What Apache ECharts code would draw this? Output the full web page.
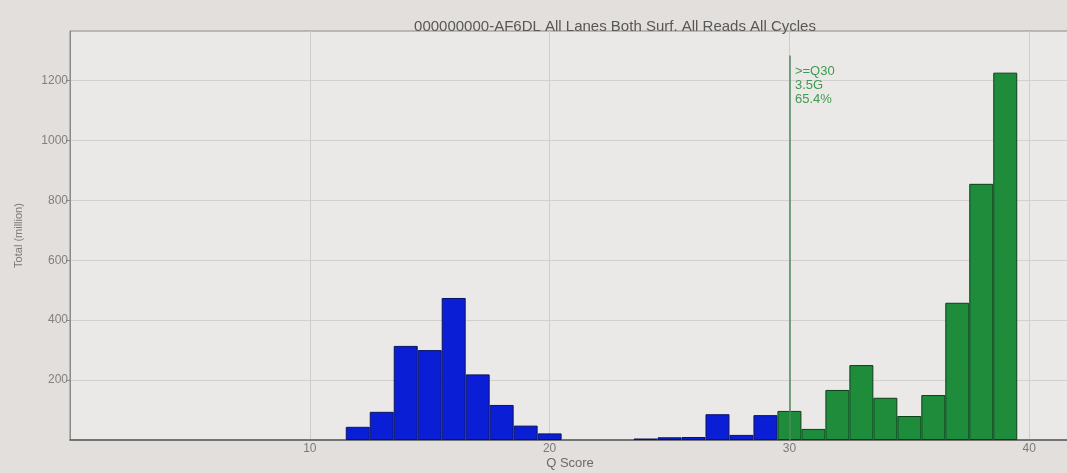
<!DOCTYPE html>
<html>
<head>
<meta charset="utf-8">
<script src="https://cdn.jsdelivr.net/npm/echarts@6/dist/echarts.min.js"></script>
<style>
html,body{margin:0;padding:0;background:#e3dfdc;}
#chart{width:1067px;height:473px;}
</style>
</head>
<body>
<div id="chart"></div>
<script>
var titleText = '000000000-AF6DL All Lanes Both Surf. All Reads All Cycles';
var lowQ = [12, 13, 14, 15, 16, 17, 18, 19, 20, 24, 25, 26, 27, 28, 29];
var lowValues = [44, 94, 314, 300, 474, 219, 117, 48, 22, 5, 9, 10, 86, 17, 83];
var highQ = [30, 31, 32, 33, 34, 35, 36, 37, 38, 39];
var highValues = [97, 37, 167, 250, 141, 80, 150, 458, 855, 1226];
var yTicks = [200, 400, 600, 800, 1000, 1200];
var xTicks = [10, 20, 30, 40];
var thresholdQ = 30;
var thresholdLabel = ['>=Q30', '3.5G', '65.4%'];

function pairs(xs, ys){ return xs.map(function(x,i){ return [x, ys[i]]; }); }

var FONT = 'Liberation Sans, Arial, sans-serif';
var chart = echarts.init(document.getElementById('chart'));
chart.setOption({
  backgroundColor: '#e3dfdc',
  animation: false,
  title: {
    text: titleText,
    left: 610, top: 14, textAlign: 'center',
    textStyle: {fontFamily: FONT, fontSize: 15, fontWeight: 'normal', color: '#575757'}
  },
  grid: {left: 70, right: -3, top: 31, bottom: 33, outerBoundsMode: 'none', containLabel: false,
    show: true, backgroundColor: '#ebe9e7', borderColor: '#8a8a8a', borderWidth: 1},
  xAxis: {
    type: 'value', min: 0, max: 41.7, interval: 10,
    name: 'Q Score', nameLocation: 'middle', nameGap: 17, nameMoveOverlap: false,
    nameTextStyle: {fontFamily: FONT, fontSize: 13, color: '#6a6a6a'},
    axisLine: {show: true, lineStyle: {color: '#5e5e5e', width: 1.5}},
    axisTick: {show: false},
    axisLabel: {fontFamily: FONT, fontSize: 12, color: '#7a7a7a', margin: 3,
      customValues: xTicks, formatter: function(v){ return String(v); }},
    splitLine: {show: true, lineStyle: {color: '#cfcccb', width: 1}}
  },
  yAxis: {
    type: 'value', min: 0, max: 1365, interval: 200,
    name: 'Total (million)', nameLocation: 'middle', nameGap: 46, nameRotate: 90, nameMoveOverlap: false,
    nameTextStyle: {fontFamily: FONT, fontSize: 11, color: '#7a7a7a'},
    axisLine: {show: true, lineStyle: {color: '#8a8a8a'}},
    axisTick: {show: true, length: 4, customValues: yTicks, lineStyle: {color: '#8a8a8a'}},
    axisLabel: {fontFamily: FONT, fontSize: 12, color: '#808080', margin: 2, customValues: yTicks,
      formatter: function(v){ return String(v); }},
    splitLine: {show: true, lineStyle: {color: '#d2cfcd', width: 1}}
  },
  series: [
    {
      type: 'bar', name: 'low', data: pairs(lowQ, lowValues),
      barWidth: '100%', barGap: '-100%',
      itemStyle: {color: '#0a1ed6', borderColor: '#0a1460', borderWidth: 1}
    },
    {
      type: 'bar', name: 'high', data: pairs(highQ, highValues),
      barWidth: '100%', barGap: '-100%',
      itemStyle: {color: '#1f8c3c', borderColor: '#0c3f18', borderWidth: 1},
      markLine: {
        symbol: 'none', silent: true,
        lineStyle: {color: '#4f8a5c', width: 1.5, type: 'solid'},
        label: {show: false},
        data: [[{coord: [thresholdQ, 0]}, {coord: [thresholdQ, 1283]}]]
      },
      markPoint: {
        symbol: 'circle', symbolSize: 1, silent: true,
        itemStyle: {color: 'rgba(0,0,0,0)'},
        data: [{coord: [thresholdQ, 1283]}],
        label: {
          show: true, position: 'right',
          formatter: thresholdLabel.join('\n'),
          fontFamily: FONT, fontSize: 13, lineHeight: 14,
          color: '#3f9a50', align: 'left', verticalAlign: 'top',
          offset: [0, 9]
        }
      }
    }
  ]
});
</script>
</body>
</html>
